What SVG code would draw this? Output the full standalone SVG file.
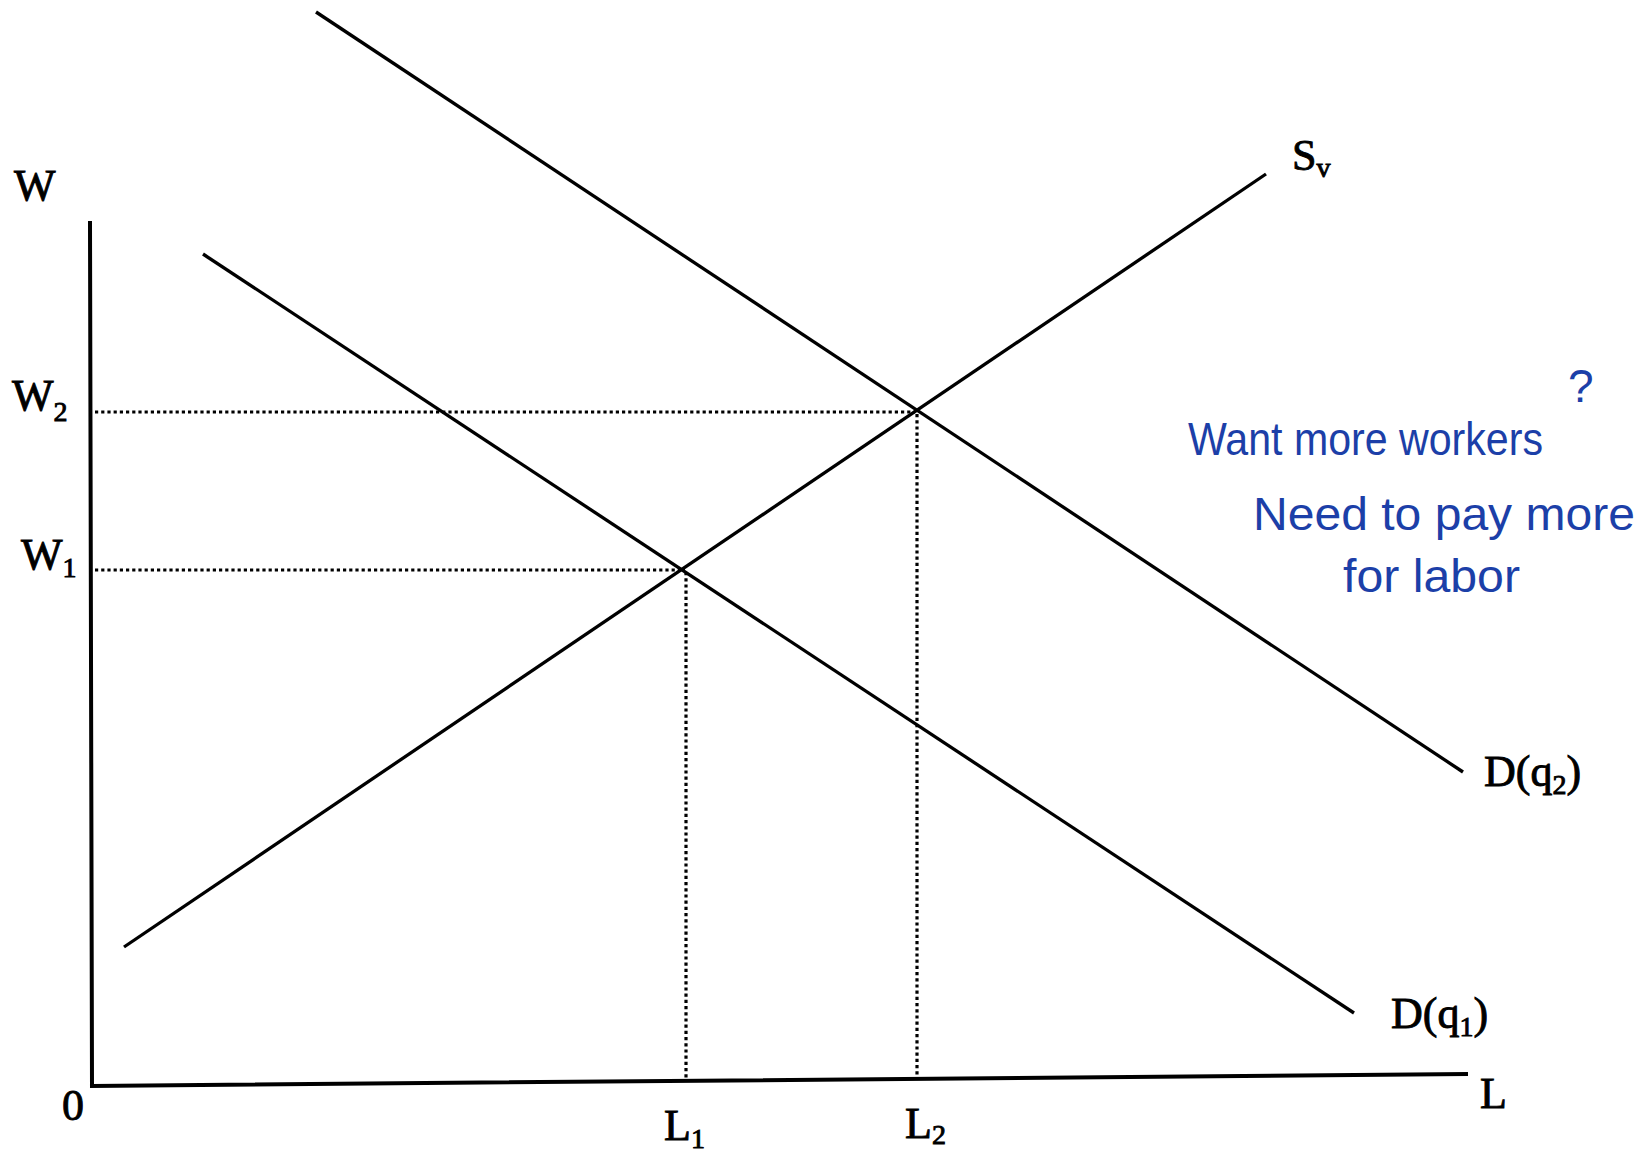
<svg xmlns="http://www.w3.org/2000/svg" width="1650" height="1152" viewBox="0 0 1650 1152">
<style>
.ax{stroke:#000;stroke-width:4;fill:none;stroke-linecap:square}
.cv{stroke:#000;stroke-width:3.3;fill:none}
.dt{stroke:#000;stroke-width:3.2;fill:none;stroke-dasharray:3.2 3}
.lb{font-family:"Liberation Serif","Times New Roman",serif;font-size:44px;fill:#000;stroke:#000;stroke-width:0.9}
.sb{font-size:28px}
.hw{font-family:"Liberation Sans",Arial,sans-serif;font-size:46px;fill:#1c3fa8}
</style>
<rect width="1650" height="1152" fill="#fff"/>
<g id="axes">
<polyline class="ax" points="90,223 92,1086 1466,1074"/>
</g>
<g id="connectors">
<line id="supply" class="cv" x1="124" y1="947" x2="1266" y2="174"/>
<line id="demand-q1" class="cv" x1="203" y1="254" x2="1354" y2="1013"/>
<line id="demand-q2" class="cv" x1="316" y1="12" x2="1463" y2="772"/>
<line class="dt" x1="95" y1="412" x2="915" y2="412"/>
<line class="dt" x1="95" y1="570" x2="685" y2="570"/>
<line class="dt" x1="686" y1="572" x2="686" y2="1080"/>
<line class="dt" x1="917" y1="414" x2="917" y2="1078"/>
</g>
<g id="label-W"><text class="lb" x="14" y="200">W</text></g>
<g id="label-W2"><text class="lb" x="12" y="410">W<tspan class="sb" dy="11">2</tspan></text></g>
<g id="label-W1"><text class="lb" x="21" y="569">W<tspan class="sb" dy="8">1</tspan></text></g>
<g id="label-0"><text class="lb" x="62" y="1120">0</text></g>
<g id="label-L1"><text class="lb" x="664" y="1140">L<tspan class="sb" dy="8">1</tspan></text></g>
<g id="label-L2"><text class="lb" x="905" y="1138">L<tspan class="sb" dy="6">2</tspan></text></g>
<g id="label-L"><text class="lb" x="1480" y="1108">L</text></g>
<g id="label-Sv"><text class="lb" x="1292" y="170">S<tspan class="sb" dy="7">v</tspan></text></g>
<g id="label-Dq2"><text class="lb" x="1484" y="786">D(q<tspan class="sb" dy="8">2</tspan><tspan dy="-8">)</tspan></text></g>
<g id="label-Dq1"><text class="lb" x="1391" y="1028">D(q<tspan class="sb" dy="8">1</tspan><tspan dy="-8">)</tspan></text></g>
<g id="note">
<text class="hw" x="1188" y="455" font-size="41" textLength="355" lengthAdjust="spacingAndGlyphs">Want more workers</text>
<text class="hw" x="1568" y="402" font-size="40">?</text>
<text class="hw" x="1253" y="530" textLength="382" lengthAdjust="spacingAndGlyphs">Need to pay more</text>
<text class="hw" x="1343" y="592" textLength="177" lengthAdjust="spacingAndGlyphs">for labor</text>
</g>
</svg>
